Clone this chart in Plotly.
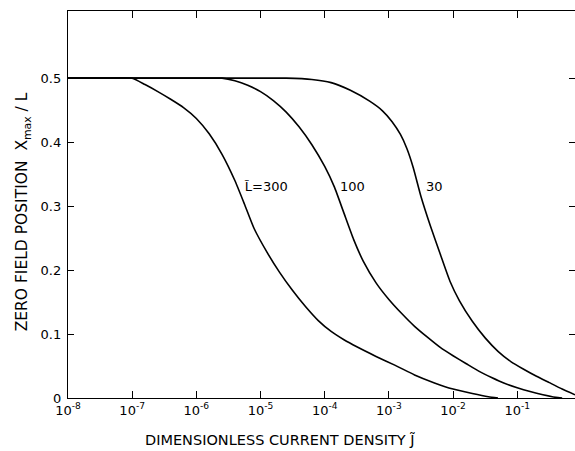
import plotly.graph_objects as go

# log10 of dimensionless current density J~, and zero field position x_max/L
logJ_300 = [-8.0, -7.5, -7.0, -6.8, -6.6, -6.4, -6.2, -6.0, -5.8, -5.6, -5.4, -5.25, -5.1,
            -4.9, -4.7, -4.5, -4.3, -4.1, -3.9, -3.7, -3.5, -3.2, -2.9, -2.6, -2.3,
            -2.0, -1.7, -1.45, -1.3]
x_300 = [0.5, 0.5, 0.5, 0.490, 0.479, 0.467, 0.454, 0.437, 0.413, 0.381, 0.340, 0.303, 0.265,
         0.228, 0.196, 0.168, 0.143, 0.121, 0.104, 0.091, 0.080, 0.065, 0.051, 0.036, 0.024,
         0.014, 0.007, 0.002, 0.0]

logJ_100 = [-8.0, -6.0, -5.6, -5.4, -5.2, -5.0, -4.8, -4.6, -4.4, -4.2, -4.0, -3.85, -3.7,
            -3.55, -3.4, -3.2, -3.0, -2.8, -2.6, -2.4, -2.2, -2.0, -1.8, -1.6, -1.4,
            -1.2, -1.0, -0.8, -0.6, -0.4, -0.3]
x_100 = [0.5, 0.5, 0.5, 0.496, 0.489, 0.479, 0.465, 0.447, 0.424, 0.396, 0.362, 0.330, 0.289,
         0.248, 0.214, 0.180, 0.154, 0.132, 0.112, 0.095, 0.079, 0.066, 0.054, 0.042, 0.032,
         0.023, 0.016, 0.010, 0.005, 0.001, 0.0]

logJ_30 = [-8.0, -5.0, -4.6, -4.2, -3.9, -3.6, -3.3, -3.1, -2.95, -2.82, -2.72, -2.62, -2.5,
           -2.35, -2.2, -2.05, -1.9, -1.7, -1.5, -1.3, -1.1, -0.9, -0.7, -0.5, -0.3, -0.1]
x_30 = [0.5, 0.5, 0.5, 0.498, 0.493, 0.481, 0.464, 0.449, 0.432, 0.412, 0.390, 0.360, 0.315,
        0.268, 0.225, 0.183, 0.152, 0.120, 0.094, 0.073, 0.057, 0.045, 0.034, 0.024, 0.014,
        0.005]

curve_labels = ["L\u0303=300", "100", "30"]
label_logJ = [-5.29, -3.79, -2.45]
label_y = [0.33, 0.33, 0.33]

x_tick_exps = [-8, -7, -6, -5, -4, -3, -2, -1]
x_tick_text = ["10<sup>%d</sup>" % e for e in x_tick_exps]
y_tick_vals = [0, 0.1, 0.2, 0.3, 0.4, 0.5]
y_tick_text = ["0", "0.1", "0.2", "0.3", "0.4", "0.5"]

FONT = "DejaVu Sans"

fig = go.Figure()
for lj, xv in [(logJ_300, x_300), (logJ_100, x_100), (logJ_30, x_30)]:
    fig.add_trace(go.Scatter(
        x=[10 ** v for v in lj], y=xv, mode="lines",
        line=dict(color="black", width=1.6, shape="spline", smoothing=0.5),
        showlegend=False, hoverinfo="skip"))

for t, lx, ly in zip(curve_labels, label_logJ, label_y):
    fig.add_annotation(x=lx, y=ly, xref="x", yref="y", text=t, showarrow=False,
                       xanchor="left", yanchor="middle",
                       font=dict(family=FONT, size=13, color="black"))

fig.add_annotation(x=0.418, y=-0.108, xref="paper", yref="paper",
                   text="DIMENSIONLESS CURRENT DENSITY J\u0303", showarrow=False,
                   xanchor="center", yanchor="middle",
                   font=dict(family=FONT, size=14.5, color="black"))
fig.add_annotation(x=-0.087, y=0.482, xref="paper", yref="paper",
                   text="ZERO FIELD POSITION  X<sub>max</sub> / L", showarrow=False,
                   textangle=-90, xanchor="center", yanchor="middle",
                   font=dict(family=FONT, size=15.5, color="black"))

fig.update_xaxes(type="log", range=[-8, -0.1],
                 tickvals=[10 ** e for e in x_tick_exps], ticktext=x_tick_text,
                 ticks="inside", ticklen=7, tickwidth=1, tickcolor="black",
                 showline=True, linecolor="black", linewidth=1.3, mirror="allticks",
                 showgrid=False, zeroline=False,
                 tickfont=dict(family=FONT, size=13, color="black"))
fig.update_yaxes(range=[0, 0.605], tickvals=y_tick_vals, ticktext=y_tick_text,
                 ticks="inside", ticklen=6, tickwidth=1, tickcolor="black",
                 showline=True, linecolor="black", linewidth=1.3, mirror="allticks",
                 showgrid=False, zeroline=False, ticklabelstandoff=3,
                 tickfont=dict(family=FONT, size=13, color="black"))

fig.update_layout(width=575, height=451,
                  margin=dict(l=68, r=0, t=11, b=53),
                  paper_bgcolor="white", plot_bgcolor="white")

fig.write_html("out.html", config={"displayModeBar": False},
               post_script="document.body.style.margin='0';")
